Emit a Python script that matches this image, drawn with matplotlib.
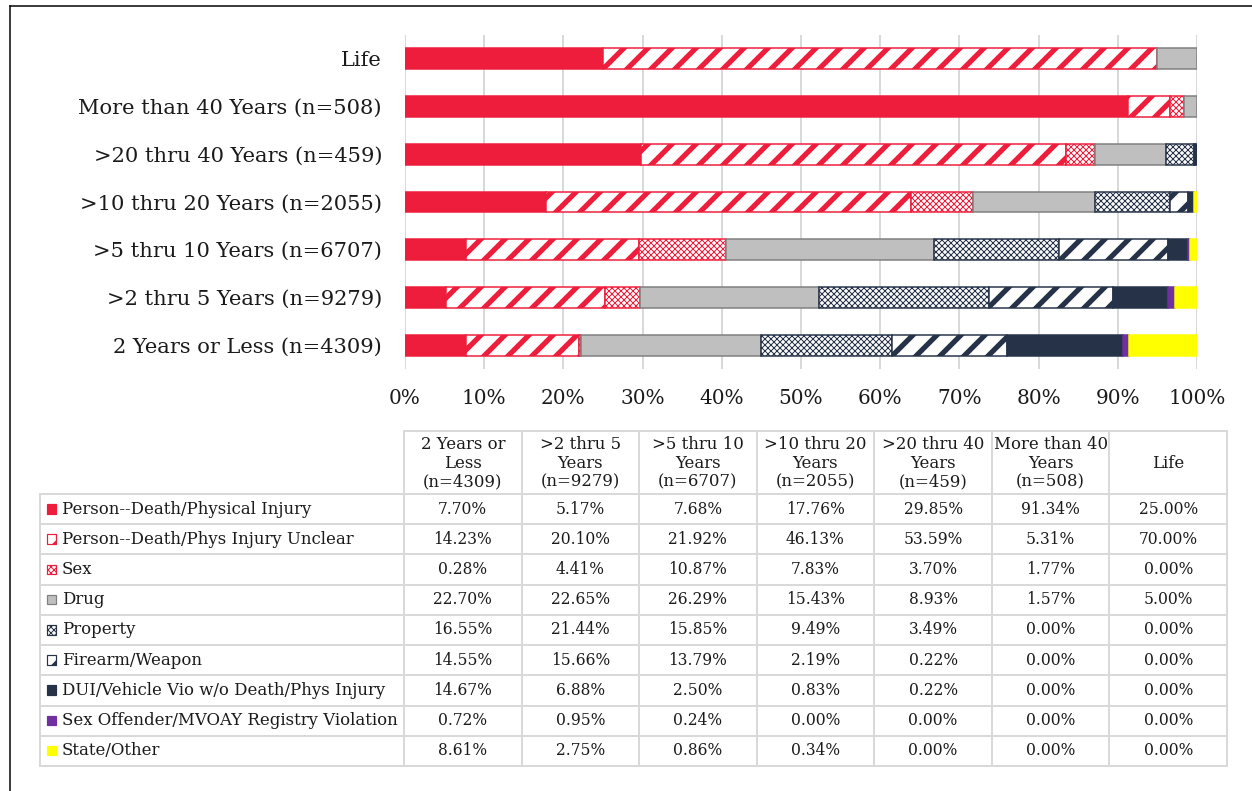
import matplotlib
matplotlib.use("Agg")
import matplotlib as mpl
import matplotlib.pyplot as plt
from matplotlib.patches import Rectangle
import numpy as np

# ---- data -------------------------------------------------------------
bar_labels = ["2 Years or Less (n=4309)", ">2 thru 5 Years (n=9279)",
              ">5 thru 10 Years (n=6707)", ">10 thru 20 Years (n=2055)",
              ">20 thru 40 Years (n=459)", "More than 40 Years (n=508)", "Life"]
table_headers = ["2 Years or\nLess\n(n=4309)", ">2 thru 5\nYears\n(n=9279)",
                 ">5 thru 10\nYears\n(n=6707)", ">10 thru 20\nYears\n(n=2055)",
                 ">20 thru 40\nYears\n(n=459)", "More than 40\nYears\n(n=508)", "Life"]
offenses = ["Person--Death/Physical Injury", "Person--Death/Phys Injury Unclear",
            "Sex", "Drug", "Property", "Firearm/Weapon",
            "DUI/Vehicle Vio w/o Death/Phys Injury",
            "Sex Offender/MVOAY Registry Violation", "State/Other"]

person = [7.70, 5.17, 7.68, 17.76, 29.85, 91.34, 25.00]
person_unclear = [14.23, 20.10, 21.92, 46.13, 53.59, 5.31, 70.00]
sex = [0.28, 4.41, 10.87, 7.83, 3.70, 1.77, 0.00]
drug = [22.70, 22.65, 26.29, 15.43, 8.93, 1.57, 5.00]
prop = [16.55, 21.44, 15.85, 9.49, 3.49, 0.00, 0.00]
firearm = [14.55, 15.66, 13.79, 2.19, 0.22, 0.00, 0.00]
dui = [14.67, 6.88, 2.50, 0.83, 0.22, 0.00, 0.00]
registry = [0.72, 0.95, 0.24, 0.00, 0.00, 0.00, 0.00]
state_other = [8.61, 2.75, 0.86, 0.34, 0.00, 0.00, 0.00]
series = [person, person_unclear, sex, drug, prop, firearm, dui, registry, state_other]

# ---- styling ----------------------------------------------------------
RED = "#EE1D3B"
NAVY = "#263248"
GRAY = "#BFBFBF"
DGRAY = "#7F7F7F"
PURPLE = "#7030A0"
YELLOW = "#FFFF00"
GRID = "#D9D9D9"
TXT = "#1A1A1A"
FONT = ["DejaVu Serif"]

styles = [
    dict(fc=RED, ec=RED, hatch=None, hlw=1.0),
    dict(fc="white", ec=RED, hatch="/", hlw=5.2),
    dict(fc="white", ec=RED, hatch="xxxx", hlw=1.0),
    dict(fc=GRAY, ec=DGRAY, hatch=None, hlw=1.0),
    dict(fc="white", ec=NAVY, hatch="xxxx", hlw=1.0),
    dict(fc="white", ec=NAVY, hatch="/", hlw=5.2),
    dict(fc=NAVY, ec=NAVY, hatch=None, hlw=1.0),
    dict(fc=PURPLE, ec=PURPLE, hatch=None, hlw=1.0),
    dict(fc=YELLOW, ec=YELLOW, hatch=None, hlw=1.0),
]

plt.rcParams["font.family"] = FONT
W, H, DPI = 1252, 791, 72
fig = plt.figure(figsize=(W / DPI, H / DPI), dpi=DPI)


def fx(px):
    return px / W


def fy(py):
    return 1 - py / H


def with_hatch_width(artist, lw):
    """Draw the artist with its own hatch line width."""
    base_draw = artist.draw

    def draw(renderer, *args, **kwargs):
        with mpl.rc_context({"hatch.linewidth": lw}):
            if hasattr(artist, "set_hatch_linewidth"):
                artist.set_hatch_linewidth(lw)
            return base_draw(renderer, *args, **kwargs)

    artist.draw = draw


def styled_patch(p, st):
    p.set_facecolor(st["fc"])
    p.set_edgecolor(st["ec"])
    p.set_linewidth(1.5)
    if st["hatch"]:
        p.set_hatch(st["hatch"])
        with_hatch_width(p, st["hlw"])


# ---- stacked bar chart ------------------------------------------------
ax = fig.add_axes([fx(405), fy(369), fx(1197 - 405), (369 - 35) / H])
ypos = np.arange(len(bar_labels))
left = np.zeros(len(bar_labels))
for vals, st in zip(series, styles):
    w = np.array(vals) / 100.0
    bars = ax.barh(ypos, w, left=left, height=0.44)
    for p, wi in zip(bars, w):
        styled_patch(p, st)
        if wi <= 0:
            p.set_visible(False)
    left += w

ax.set_xlim(0, 1)
ax.set_ylim(-0.5, len(bar_labels) - 0.5)
ax.set_xticks(np.linspace(0, 1, 11))
ax.set_xticklabels([f"{int(round(t * 100))}%" for t in np.linspace(0, 1, 11)])
ax.set_yticks(ypos)
ax.set_yticklabels(bar_labels)
ax.tick_params(axis="y", length=0, pad=23, labelsize=21, labelcolor=TXT)
ax.tick_params(axis="x", length=0, pad=20, labelsize=20, labelcolor=TXT)
ax.xaxis.grid(True, color=GRID, lw=2)
ax.set_axisbelow(True)
for s in ax.spines.values():
    s.set_visible(False)

# ---- data table with legend keys --------------------------------------
tab = fig.add_axes([0, 0, 1, 1], zorder=-1)
tab.set_xlim(0, W)
tab.set_ylim(H, 0)
tab.axis("off")
tab.patch.set_alpha(0)

# outer frame lines
tab.plot([10, 10], [6, H], color="black", lw=1.5)
tab.plot([10, W], [6, 6], color="black", lw=1.5)

x_lab0, x_col0, x_end = 40, 404, 1227
col_w = (x_end - x_col0) / len(table_headers)
y_head0, y_head1 = 431, 494
row_h = (766 - y_head1) / len(offenses)
y_end = y_head1 + row_h * len(offenses)

tab.plot([x_col0, x_end], [y_head0, y_head0], color=GRID, lw=2)
for k in range(len(offenses) + 1):
    yy = y_head1 + k * row_h
    tab.plot([x_lab0, x_end], [yy, yy], color=GRID, lw=2)
tab.plot([x_lab0, x_lab0], [y_head1, y_end], color=GRID, lw=2)
for j in range(len(table_headers) + 1):
    xx = x_col0 + j * col_w
    tab.plot([xx, xx], [y_head0, y_end], color=GRID, lw=2)

for j, h in enumerate(table_headers):
    tab.text(x_col0 + (j + 0.5) * col_w, (y_head0 + y_head1) / 2 + 1, h,
             ha="center", va="center", fontsize=16.5, color=TXT,
             linespacing=1.12)

for i, (name, vals, st) in enumerate(zip(offenses, series, styles)):
    yc = y_head1 + (i + 0.5) * row_h
    key = Rectangle((46.5, yc - 5), 9.5, 9.5)
    styled_patch(key, st)
    key.set_linewidth(1.2)
    tab.add_patch(key)
    tab.text(62, yc, name, ha="left", va="center", fontsize=16.5, color=TXT)
    for j, v in enumerate(vals):
        tab.text(x_col0 + (j + 0.5) * col_w, yc, f"{v:.2f}%",
                 ha="center", va="center", fontsize=15.5, color=TXT)

fig.savefig("out.png", dpi=DPI, facecolor="white")
